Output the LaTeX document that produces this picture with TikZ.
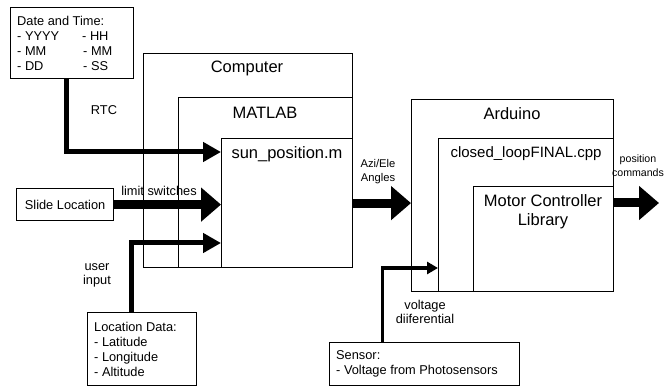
\documentclass[tikz,border=0pt]{standalone}
\usepackage{fontspec}
\setmainfont{Liberation Sans}
\usetikzlibrary{arrows.meta, positioning}
\tikzset{box/.style={draw, line width=1.2pt, inner sep=0pt, anchor=north west},
	bigtext/.style={font=\fontsize{16.5}{19}\selectfont, align=center},
	smalltext/.style={font=\fontsize{12.8}{14}\selectfont, align=center},
	tinytext/.style={font=\fontsize{11.2}{14}\selectfont, align=center},
	boxtext/.style={font=\fontsize{12.8}{15}\selectfont, align=left, anchor=west, inner sep=0pt},
	bigarrow/.style={line width=9pt, -{Triangle[length=20pt,width=33pt]}},
	medarrow/.style={line width=5pt, -{Triangle[length=18pt,width=19pt]}},
	smallarrow/.style={line width=3.5pt, -{Triangle[length=11pt,width=12pt]}}}

\begin{document}
\begin{tikzpicture}[x=1pt,y=-1pt]
			\useasboundingbox (0,0) rectangle (666,387);
			% input boxes
			\node[box, minimum width=123pt, minimum height=71pt] (datetime) at (10,7) {};
			\node[boxtext] (datetimetxt) at ([xshift=7pt]datetime.west) {Date and Time:\\\makebox[65pt][l]{- YYYY}- HH\\\makebox[66pt][l]{- MM}- MM\\\makebox[66pt][l]{- DD}- SS};
			\node[box, minimum width=97pt, minimum height=32pt] (slide) at (16,188) {};
			\node[smalltext] (slidetxt) at (slide.center) {Slide Location};
			\node[box, minimum width=109pt, minimum height=73pt] (locdata) at (87,312) {};
			\node[boxtext] (locdatatxt) at ([xshift=7pt]locdata.west) {Location Data:\\- Latitude\\- Longitude\\- Altitude};
			\node[box, minimum width=190pt, minimum height=43pt] (sensor) at (329,342) {};
			\node[boxtext] (sensortxt) at ([xshift=7pt]sensor.west) {Sensor:\\- Voltage from Photosensors};
			% computer side
			\node[box, minimum width=209pt, minimum height=214pt] (computer) at (143,53) {};
			\node[box, minimum width=174pt, minimum height=170pt] (matlab) at (178,97) {};
			\node[box, minimum width=131pt, minimum height=129pt] (sunpos) at (221,138) {};
			\node[bigtext] (computerlbl) at (247,68) {Computer};
			\node[bigtext] (matlablbl) at (265,113) {MATLAB};
			\node[bigtext] (sunposlbl) at (287,154) {sun\_position.m};
			% arduino side
			\node[box, minimum width=202pt, minimum height=192pt] (arduino) at (411,99) {};
			\node[box, minimum width=175pt, minimum height=153pt] (closedloop) at (438,138) {};
			\node[box, minimum width=140pt, minimum height=105pt] (motorlib) at (473,186) {};
			\node[bigtext] (arduinolbl) at (512,114) {Arduino};
			\node[font=\fontsize{15}{18}\selectfont] (closedlooplbl) at (526,154) {closed\_loopFINAL.cpp};
			\node[bigtext] (motorliblbl) at (543,212) {Motor Controller\\Library};
			% connectors
			\coordinate (rtcin) at (221,152);
			\coordinate (userin) at (221,243);
			\coordinate (voltin) at (438,268);
			\coordinate (posout) at (659,203);
			\draw[medarrow] ([xshift=-5.5pt]datetime.south) |- (rtcin);
			\draw[bigarrow] (slide.east) -- (slide.east -| sunpos.west);
			\draw[medarrow] ([xshift=-10.5pt]locdata.north) |- (userin);
			\draw[bigarrow] (sunpos.east) -- (arduino.west |- sunpos.east);
			\draw[bigarrow] (motorlib.east |- posout) -- (posout);
			\draw[smallarrow] ([xshift=-42pt]sensor.north) |- (voltin);
			% connector labels
			\node[smalltext] (rtclbl) at (104,110) {RTC};
			\node[smalltext] (limitlbl) at (159,191) {limit switches};
			\node[smalltext] (userlbl) at (97,275) {user\\input};
			\node[tinytext] (anglelbl) at (378,172) {Azi/Ele\\Angles};
			\node[smalltext] (voltlbl) at (425,312) {voltage\\diiferential};
			\node[tinytext, font=\fontsize{10.6}{14}\selectfont] (poslbl) at (638,166) {position\\commands};
		\end{tikzpicture}
\end{document}
